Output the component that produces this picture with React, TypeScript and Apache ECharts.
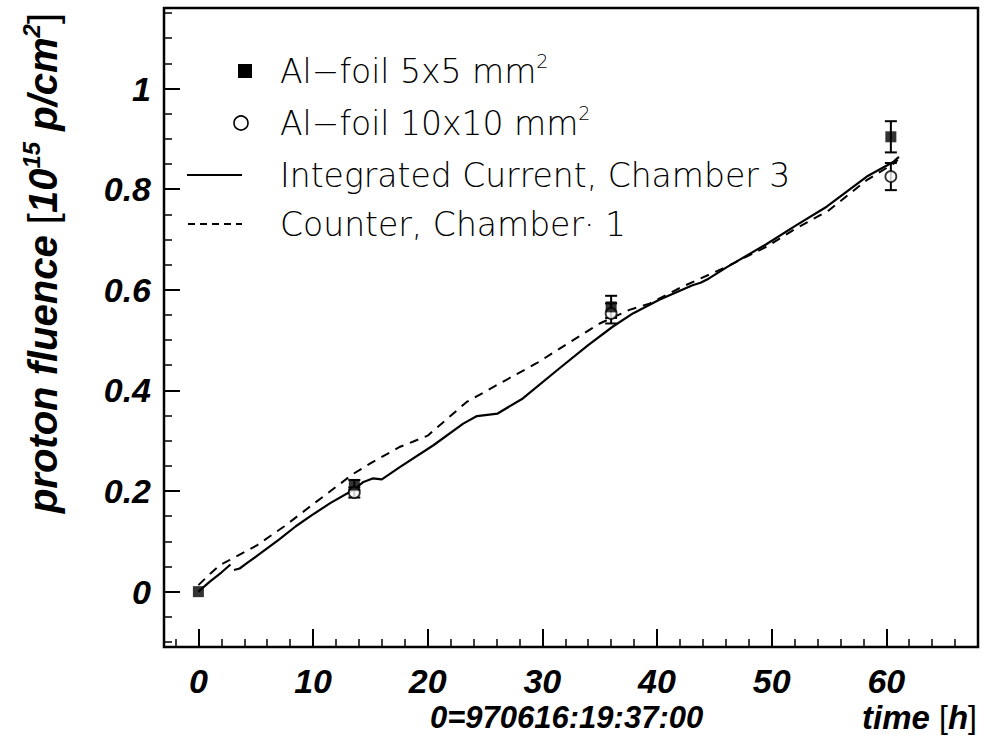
import React, { useEffect, useRef } from 'react';
import * as echarts from 'echarts';

// Integrated Current, Chamber 3 (solid). null = gap in the trace
const currentX = [0, 1, 2, 2.8, 3.0, 3.1, 3.6, 4.2, 5.4, 7, 8.5, 9.9, 11.5, 13.5, 14.4, 15.2, 16, 17.6, 20.5, 23.1, 24.3, 26.1, 28.3, 31.5, 34, 36.1, 37.9, 40.2, 43.1, 43.8, 44.5, 46.1, 49.5, 52.2, 54.8, 58.3, 60.6, 61.1];
const currentY = [0, 0.02, 0.038, 0.054, null, 0.043, 0.046, 0.056, 0.076, 0.103, 0.13, 0.152, 0.176, 0.202, 0.218, 0.225, 0.223, 0.248, 0.291, 0.334, 0.349, 0.354, 0.384, 0.444, 0.49, 0.526, 0.553, 0.58, 0.609, 0.614, 0.622, 0.645, 0.69, 0.729, 0.765, 0.825, 0.854, 0.864];

// Counter, Chamber 1 (dashed)
const counterX = [0, 1, 1.9, 2.75, 5.1, 7.5, 9.9, 13.5, 15, 17.6, 18.7, 20, 23.4, 26.3, 29.5, 32, 35, 37.6, 39.4, 42.2, 46, 49.5, 52, 55, 58.3, 60.6, 61];
const counterY = [0.013, 0.035, 0.053, 0.063, 0.092, 0.13, 0.172, 0.234, 0.255, 0.288, 0.298, 0.31, 0.377, 0.414, 0.454, 0.49, 0.533, 0.56, 0.573, 0.606, 0.645, 0.685, 0.72, 0.758, 0.818, 0.85, 0.858];

// Al-foil 5x5 mm2 (filled squares)
const foil5X = [0, 13.6, 36.0, 60.4];
const foil5Y = [0.0, 0.212, 0.566, 0.904];
const foil5Err = [0, 0.01, 0.022, 0.031];

// Al-foil 10x10 mm2 (open circles)
const foil10X = [13.6, 36.0, 60.4];
const foil10Y = [0.197, 0.553, 0.825];
const foil10Err = [0.01, 0.02, 0.027];

// ticks
const xMajorTicks = [0, 10, 20, 30, 40, 50, 60];
const xMinorTicks = [-2, 2, 4, 6, 8, 12, 14, 16, 18, 22, 24, 26, 28, 32, 34, 36, 38, 42, 44, 46, 48, 52, 54, 56, 58, 62, 64, 66, 68];
const yMajorTicks = [0, 0.2, 0.4, 0.6, 0.8, 1];
const yMinorTicks = [-0.1, -0.05, 0.05, 0.1, 0.15, 0.25, 0.3, 0.35, 0.45, 0.5, 0.55, 0.65, 0.7, 0.75, 0.85, 0.9, 0.95, 1.05, 1.1, 1.15];

const legendLabels = ['Al\u2212foil 5x5 mm', 'Al\u2212foil 10x10 mm', 'Integrated Current, Chamber 3', 'Counter, Chamber\u00b7 1'];

const TICK_FONT = 'Liberation Sans';
const LEG_FONT = 'DejaVu Sans';

export default function App() {
  const ref = useRef<HTMLDivElement>(null);
  useEffect(() => {
    document.body.style.margin = '0';
    const chart = echarts.init(ref.current!, null, { renderer: 'svg' });

    const errRender = (params: any, api: any) => {
      const x = api.value(0);
      const y = api.value(1);
      const e = api.value(2);
      if (!e) return null;
      const top = api.coord([x, y + e]);
      const bot = api.coord([x, y - e]);
      const w = 6;
      const st = { stroke: '#000', lineWidth: 2 };
      return {
        type: 'group',
        children: [
          { type: 'line', shape: { x1: top[0], y1: top[1], x2: bot[0], y2: bot[1] }, style: st },
          { type: 'line', shape: { x1: top[0] - w, y1: top[1], x2: top[0] + w, y2: top[1] }, style: st },
          { type: 'line', shape: { x1: bot[0] - w, y1: bot[1], x2: bot[0] + w, y2: bot[1] }, style: st },
        ],
      };
    };

    const axisCommon = {
      type: 'value' as const,
      splitLine: { show: false },
      axisLine: { show: false, onZero: false },
    };

    const tickLabel = {
      fontSize: 34,
      lineHeight: 30,
      fontStyle: 'italic',
      fontWeight: 'bold',
      fontFamily: TICK_FONT,
      color: '#000',
    };

    const legendRich = {
      t: { fontSize: 33, fontFamily: LEG_FONT, fontWeight: 200, fill: '#000', lineHeight: 40 },
      s: { fontSize: 19, fontFamily: LEG_FONT, fontWeight: 200, fill: '#000', lineHeight: 40, verticalAlign: 'top' },
    };

    const legendRows = [71, 123, 175, 224];
    const legendTextX = 280;

    const option: any = {
      animation: false,
      backgroundColor: '#fff',
      grid: {
        left: 164,
        right: 5,
        top: 8,
        bottom: 89,
        show: true,
        borderColor: '#000',
        borderWidth: 2.5,
        backgroundColor: 'transparent',
      },
      xAxis: [
        {
          ...axisCommon,
          min: -3,
          max: 68,
          position: 'bottom',
          axisTick: { show: true, inside: true, length: 18, customValues: xMajorTicks, lineStyle: { color: '#000', width: 2 } },
          axisLabel: { ...tickLabel, customValues: xMajorTicks, margin: 19 },
        },
        {
          ...axisCommon,
          min: -3,
          max: 68,
          position: 'bottom',
          axisTick: { show: true, inside: true, length: 8, customValues: xMinorTicks, lineStyle: { color: '#000', width: 1.5 } },
          axisLabel: { show: false },
        },
      ],
      yAxis: [
        {
          ...axisCommon,
          min: -0.11,
          max: 1.16,
          position: 'left',
          axisTick: { show: true, inside: true, length: 16, customValues: yMajorTicks, lineStyle: { color: '#000', width: 2 } },
          axisLabel: { ...tickLabel, customValues: yMajorTicks, margin: 13, formatter: (v: number) => String(v) },
        },
        {
          ...axisCommon,
          min: -0.11,
          max: 1.16,
          position: 'left',
          axisTick: { show: true, inside: true, length: 8, customValues: yMinorTicks, lineStyle: { color: '#000', width: 1.5 } },
          axisLabel: { show: false },
        },
      ],
      series: [
        {
          name: 'Integrated Current, Chamber 3',
          type: 'line',
          xAxisIndex: 0,
          yAxisIndex: 0,
          showSymbol: false,
          symbol: 'none',
          connectNulls: false,
          lineStyle: { color: '#000', width: 2.2 },
          data: currentX.map((x, i) => [x, currentY[i] === null ? '-' : currentY[i]]),
          z: 2,
        },
        {
          name: 'Counter, Chamber 1',
          type: 'line',
          xAxisIndex: 0,
          yAxisIndex: 0,
          showSymbol: false,
          symbol: 'none',
          lineStyle: { color: '#000', width: 2, type: [9, 7] },
          data: counterX.map((x, i) => [x, counterY[i]]),
          z: 2,
        },
        {
          name: 'err5',
          type: 'custom',
          xAxisIndex: 0,
          yAxisIndex: 0,
          renderItem: errRender,
          encode: { x: 0, y: 1 },
          data: foil5X.map((x, i) => [x, foil5Y[i], foil5Err[i]]),
          z: 3,
        },
        {
          name: 'err10',
          type: 'custom',
          xAxisIndex: 0,
          yAxisIndex: 0,
          renderItem: errRender,
          encode: { x: 0, y: 1 },
          data: foil10X.map((x, i) => [x, foil10Y[i], foil10Err[i]]),
          z: 3,
        },
        {
          name: 'Al-foil 10x10 mm2',
          type: 'scatter',
          xAxisIndex: 0,
          yAxisIndex: 0,
          symbol: 'circle',
          symbolSize: 11,
          itemStyle: { color: '#fff', borderColor: '#000', borderWidth: 1.8 },
          data: foil10X.map((x, i) => [x, foil10Y[i]]),
          z: 4,
        },
        {
          name: 'Al-foil 5x5 mm2',
          type: 'scatter',
          xAxisIndex: 0,
          yAxisIndex: 0,
          symbol: 'rect',
          symbolSize: 11,
          itemStyle: { color: '#000' },
          data: foil5X.map((x, i) => [x, foil5Y[i]]),
          z: 5,
        },
      ],
      graphic: [
        // legend symbols
        { type: 'rect', shape: { x: 238, y: legendRows[0] - 7, width: 14, height: 14 }, style: { fill: '#000' } },
        { type: 'circle', shape: { cx: 241, cy: legendRows[1], r: 7 }, style: { fill: '#fff', stroke: '#000', lineWidth: 1.6 } },
        { type: 'line', shape: { x1: 187, y1: legendRows[2], x2: 242, y2: legendRows[2] }, style: { stroke: '#000', lineWidth: 2 } },
        { type: 'line', shape: { x1: 188, y1: legendRows[3], x2: 242, y2: legendRows[3] }, style: { stroke: '#000', lineWidth: 2, lineDash: [7, 5] } },
        // legend texts
        { type: 'text', x: legendTextX, y: legendRows[0], style: { text: `{t|${legendLabels[0]}}{s|2}`, rich: legendRich, verticalAlign: 'middle', align: 'left' } },
        { type: 'text', x: legendTextX, y: legendRows[1], style: { text: `{t|${legendLabels[1]}}{s|2}`, rich: legendRich, verticalAlign: 'middle', align: 'left' } },
        { type: 'text', x: legendTextX, y: legendRows[2], style: { text: `{t|${legendLabels[2]}}`, rich: legendRich, verticalAlign: 'middle', align: 'left' } },
        { type: 'text', x: legendTextX, y: legendRows[3], style: { text: `{t|${legendLabels[3]}}`, rich: legendRich, verticalAlign: 'middle', align: 'left' } },
        // y axis title
        {
          type: 'text',
          x: 43,
          y: 263,
          rotation: Math.PI / 2,
          style: {
            text: '{b|proton fluence }{r|[}{b|10}{s|15}{b| p/cm}{s|2}{r|]}',
            align: 'center',
            verticalAlign: 'middle',
            rich: {
              b: { fontSize: 40, fontStyle: 'italic', fontWeight: 'bold', fontFamily: TICK_FONT, fill: '#000', lineHeight: 48 },
              r: { fontSize: 40, fontWeight: 'normal', fontFamily: TICK_FONT, fill: '#000', lineHeight: 48 },
              s: { fontSize: 24, fontStyle: 'italic', fontWeight: 'bold', fontFamily: TICK_FONT, fill: '#000', lineHeight: 48, verticalAlign: 'top' },
            },
          },
        },
        // x axis title lines
        {
          type: 'text',
          x: 430,
          y: 717,
          style: {
            text: '0=970616:19:37:00',
            fontSize: 31,
            lineHeight: 30,
            fontStyle: 'italic',
            fontWeight: 'bold',
            fontFamily: TICK_FONT,
            fill: '#000',
            align: 'left',
            verticalAlign: 'middle',
          },
        },
        {
          type: 'text',
          x: 977,
          y: 717,
          style: {
            text: '{b|time }{r|[}{b|h}{r|]}',
            align: 'right',
            verticalAlign: 'middle',
            rich: {
              b: { fontSize: 33, fontStyle: 'italic', fontWeight: 'bold', fontFamily: TICK_FONT, fill: '#000', lineHeight: 30 },
              r: { fontSize: 32, fontWeight: 'normal', fontFamily: TICK_FONT, fill: '#000', lineHeight: 30 },
            },
          },
        },
      ],
    };

    chart.setOption(option);
    return () => chart.dispose();
  }, []);
  return <div ref={ref} style={{ width: 983, height: 736 }} />;
}
